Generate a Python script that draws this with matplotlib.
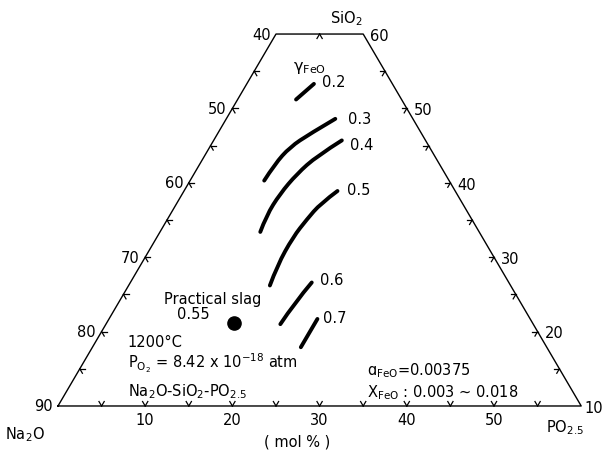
import numpy as np
import matplotlib.pyplot as plt
from matplotlib.path import Path
from matplotlib.patches import PathPatch

plt.rcParams['mathtext.default'] = 'regular'
plt.rcParams['font.family'] = 'DejaVu Sans'

# scale values written along the three edges
left_ticks = [90, 80, 70, 60, 50, 40]
right_ticks = [10, 20, 30, 40, 50, 60]
bottom_ticks = [10, 20, 30, 40, 50]

# iso-gamma(FeO) lines, points given as (bottom reading, step up the side)
gamma_labels = ['0.2', '0.3', '0.4', '0.5', '0.6', '0.7']
gamma_02 = [(6.7, 41.2), (7.7, 43.3)]
gamma_03 = [(8.5, 30.3), (8.6, 32.5), (9.2, 34.8), (10.6, 36.6), (12.5, 38.6)]
gamma_04 = [(11.5, 23.4), (11.1, 25.6), (11.2, 28.5), (11.8, 31.2),
            (12.9, 33.6), (14.7, 35.7)]
gamma_05 = [(16.2, 16.2), (15.7, 18.9), (15.6, 22.7), (16.0, 25.1),
            (16.5, 27.2), (17.6, 28.9)]
gamma_06 = [(20.0, 11.0), (20.2, 13.9), (20.8, 16.6)]
gamma_07 = [(23.9, 7.9), (23.9, 11.7)]

# practical slag composition and its gamma value
slag_point = (14.6, 11.1)
slag_gamma = '0.55'


def tern(p, s):
    p = np.asarray(p, dtype=float)
    s = np.asarray(s, dtype=float)
    return p + s / 2.0, s * np.sqrt(3) / 2.0


def edge_tick(ax, p, s, dirs, length=0.6):
    for dp, ds in dirs:
        x, y = tern([p, p + dp * length], [s, s + ds * length])
        ax.plot(x, y, color='black', lw=0.9)


def smooth_path(x, y):
    # quadratic spline through the midpoints, read points act as controls
    pts = np.column_stack([x, y])
    if len(pts) < 3:
        return Path(pts)
    verts = [pts[0]]
    codes = [Path.MOVETO]
    for i in range(1, len(pts) - 1):
        end = pts[i + 1] if i == len(pts) - 2 else (pts[i] + pts[i + 1]) / 2
        verts += [pts[i], end]
        codes += [Path.CURVE3, Path.CURVE3]
    return Path(verts, codes)


fig = plt.figure(figsize=(6.03, 4.52), dpi=100)
ax = fig.add_axes([0, 0, 1, 1])
ax.set_xlim(-6.65, 62.5)
ax.set_ylim(-5.24, 47.38)
ax.axis('off')

# truncated triangle
x, y = tern([0, 60, 10, 0, 0], [0, 0, 50, 50, 0])
ax.plot(x, y, color='black', lw=1.0)

# small chevron ticks every 5 units
for v in range(5, 60, 5):
    edge_tick(ax, v, 0, [(0, 1), (-1, 1)])
for v in range(5, 50, 5):
    edge_tick(ax, 0, v, [(1, 0), (1, -1)])
    edge_tick(ax, 60 - v, v, [(-1, 0), (0, -1)])
edge_tick(ax, 5, 50, [(0, -1), (1, -1)])

fs = 10.5
for i, lab in enumerate(left_ticks):
    x, y = tern(0, 10 * i)
    ax.annotate(str(lab), (x, y), xytext=(-4, 0), textcoords='offset points',
                ha='right', va='center', fontsize=fs)
for i, lab in enumerate(right_ticks):
    x, y = tern(60 - 10 * i, 10 * i)
    dx = 2 if i == 0 else 5
    ax.annotate(str(lab), (x, y), xytext=(dx, -1), textcoords='offset points',
                ha='left', va='center', fontsize=fs)
for lab in bottom_ticks:
    x, y = tern(lab, 0)
    ax.annotate(str(lab), (x, y), xytext=(0, -9.5), textcoords='offset points',
                ha='center', va='center', fontsize=fs)

# corner names and unit
ax.text(-3.8, -3.8, 'Na$_2$O', ha='center', va='baseline', fontsize=fs)
ax.text(58.1, -3.0, 'PO$_{2.5}$', ha='center', va='baseline', fontsize=fs)
ax.text(33.1, 44.7, 'SiO$_2$', ha='center', va='baseline', fontsize=fs)
ax.text(27.4, -4.1, '( mol % )', ha='center', va='center', fontsize=fs)

# iso-gamma lines with their values
curves = [gamma_02, gamma_03, gamma_04, gamma_05, gamma_06, gamma_07]
offsets = [(6, 2), (9, 0), (6, -3), (7, 1), (6, 2), (4, 1)]
for pts, lab, off in zip(curves, gamma_labels, offsets):
    p, s = zip(*pts)
    x, y = tern(p, s)
    ax.add_patch(PathPatch(smooth_path(x, y), fill=False, edgecolor='black',
                           lw=2.8, capstyle='round', joinstyle='round'))
    ax.annotate(lab, (x[-1], y[-1]), xytext=off, textcoords='offset points',
                ha='left', va='center', fontsize=fs)
ax.text(27.0, 39.5, 'γ$_{FeO}$', ha='left', va='center', fontsize=11.5)

# practical slag
x, y = tern(*slag_point)
ax.plot(x, y, 'o', color='black', ms=9.5)
ax.text(17.7, 12.0, 'Practical slag', ha='center', va='baseline', fontsize=fs)
ax.text(15.5, 10.2, slag_gamma, ha='center', va='baseline', fontsize=fs)

# conditions
ax.text(8.0, 7.0, '1200°C', ha='left', va='baseline', fontsize=fs)
ax.text(8.0, 4.5, 'P$_{O_2}$ = 8.42 x 10$^{-18}$ atm', ha='left',
        va='baseline', fontsize=fs)
ax.text(8.0, 1.2, 'Na$_2$O-SiO$_2$-PO$_{2.5}$', ha='left', va='baseline',
        fontsize=fs)
ax.text(35.4, 3.7, 'ɑ$_{FeO}$=0.00375', ha='left', va='baseline', fontsize=fs)
ax.text(35.4, 1.1, 'X$_{FeO}$ : 0.003 ~ 0.018', ha='left', va='baseline',
        fontsize=fs)

fig.savefig('out.png', dpi=100)
